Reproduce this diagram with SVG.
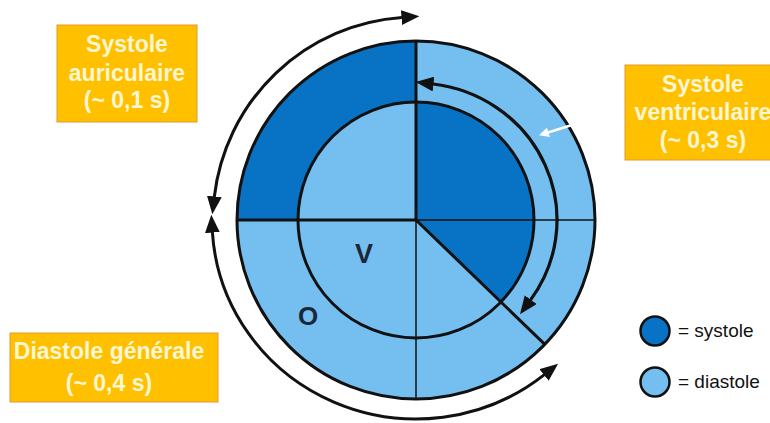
<svg xmlns="http://www.w3.org/2000/svg" width="770" height="423" viewBox="0 0 770 423">
<defs>
<style>
.dark{fill:#0872C4}
.light{fill:#74BFF0}
.ol{fill:none;stroke:#111;stroke-width:3}
.thin{stroke:#111;stroke-width:1.5}
.thick{stroke:#111;stroke-width:3}
.box{fill:#FFC000;stroke:#E09A30;stroke-width:1}
.bt{font-family:"Liberation Sans",Arial,sans-serif;font-weight:bold;font-size:23px;fill:#FFF6D2;text-anchor:middle}
.lt{font-family:"Liberation Sans",Arial,sans-serif;font-size:19px;fill:#111}
.let{font-family:"Liberation Sans",Arial,sans-serif;font-weight:bold;font-size:27px;fill:#1B2638;text-anchor:middle}
.arr{fill:none;stroke:#111;stroke-width:3.2}
.arr2{fill:none;stroke:#111;stroke-width:3}
</style>
<marker id="ah" markerUnits="userSpaceOnUse" markerWidth="18" markerHeight="15" viewBox="0 0 17 14" refX="0.5" refY="7" orient="auto-start-reverse">
<path d="M0,0 L17,7 L0,14 Z" fill="#111"/>
</marker>
<marker id="wh" markerUnits="userSpaceOnUse" markerWidth="10" markerHeight="10" viewBox="0 0 9 9" refX="0.5" refY="4.5" orient="auto">
<path d="M0,0 L9,4.5 L0,9 Z" fill="#fff"/>
</marker>
</defs>

<g id="heart">
<circle cx="416" cy="220" r="179" class="light"/>
<path d="M416 220 L237 220 A179 179 0 0 1 416 41 Z" class="dark"/>
<circle cx="416" cy="220" r="118" class="light"/>
<path d="M416 220 L416 102 A118 118 0 0 1 500.9 302 Z" class="dark"/>
<line x1="416" y1="220" x2="416" y2="399" class="thin"/>
<line x1="416" y1="220" x2="595" y2="220" class="thin"/>
<line x1="416" y1="41" x2="416" y2="220" class="thick"/>
<line x1="237" y1="220" x2="416" y2="220" class="thick"/>
<line x1="416" y1="220" x2="544.8" y2="344.4" class="thick"/>
<circle cx="416" cy="220" r="118" class="ol"/>
<circle cx="416" cy="220" r="179" class="ol"/>
<text x="364" y="263" class="let">V</text>
<text x="308" y="325" class="let" style="font-size:26px">O</text>
</g>

<g id="connectors">
<path d="M530.4 300.1 A141 137 0 0 0 433 84" class="arr" marker-start="url(#ah)" marker-end="url(#ah)"/>
<path d="M214.3 197 A203 203 0 0 1 402 17.5" class="arr2" marker-start="url(#ah)" marker-end="url(#ah)"/>
<path d="M212.4 232.1 A204 199 0 0 0 544.4 374.6" class="arr2" marker-start="url(#ah)" marker-end="url(#ah)"/>
<line x1="572" y1="125" x2="548" y2="132.5" stroke="#fff" stroke-width="2.5" marker-end="url(#wh)"/>
</g>

<g id="box-auriculaire">
<rect x="57" y="25" width="140" height="97" class="box"/>
<text x="127" y="52" class="bt">Systole</text>
<text x="127" y="81" class="bt">auriculaire</text>
<text x="127" y="108" class="bt">(~ 0,1 s)</text>
</g>

<g id="box-ventriculaire">
<rect x="625" y="65" width="160" height="95" class="box"/>
<text x="703" y="92" class="bt">Systole</text>
<text x="703" y="120" class="bt">ventriculaire</text>
<text x="703" y="148" class="bt">(~ 0,3 s)</text>
</g>

<g id="box-diastole">
<rect x="10" y="333" width="208" height="69" class="box"/>
<text x="109" y="359" class="bt">Diastole générale</text>
<text x="109" y="391" class="bt">(~ 0,4 s)</text>
</g>

<g id="legend-systole">
<circle cx="655" cy="331" r="14.5" class="dark" stroke="#111" stroke-width="2.5"/>
<text x="678" y="337" class="lt">= systole</text>
</g>
<g id="legend-diastole">
<circle cx="655" cy="382" r="14.5" class="light" stroke="#111" stroke-width="2.5"/>
<text x="678" y="388" class="lt">= diastole</text>
</g>
</svg>
